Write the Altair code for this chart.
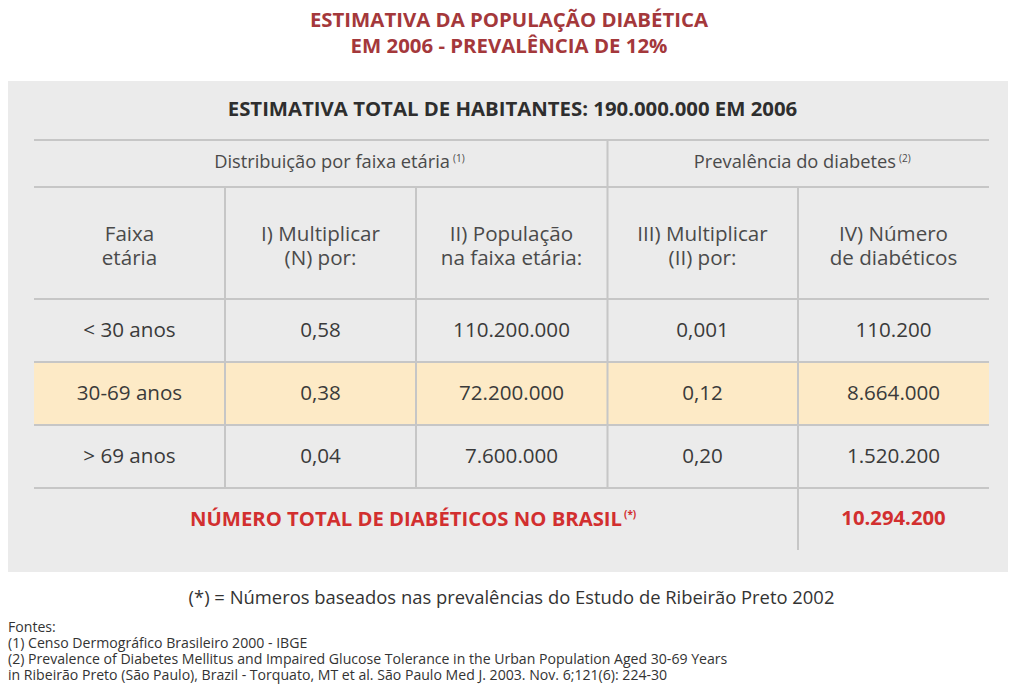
import altair as alt
import pandas as pd

# ---------------- data ----------------
title_lines = ["ESTIMATIVA DA POPULAÇÃO DIABÉTICA", "EM 2006 - PREVALÊNCIA DE 12%"]
total_habitantes_label = "ESTIMATIVA TOTAL DE HABITANTES: 190.000.000 EM 2006"
group_headers = ["Distribuição por faixa etária", "Prevalência do diabetes"]
group_sups = ["(1)", "(2)"]
col_headers = ["Faixa\netária", "I) Multiplicar\n(N) por:", "II) População\nna faixa etária:",
               "III) Multiplicar\n(II) por:", "IV) Número\nde diabéticos"]
faixas = ["< 30 anos", "30-69 anos", "> 69 anos"]
mult_n = [0.58, 0.38, 0.04]
populacao = [110200000, 72200000, 7600000]
mult_ii = [0.001, 0.12, 0.20]
diabeticos = [110200, 8664000, 1520200]
total_label = "NÚMERO TOTAL DE DIABÉTICOS NO BRASIL"
total_diabeticos = 10294200
footnote = "(*) = Números baseados nas prevalências do Estudo de Ribeirão Preto 2002"
fontes = ["Fontes:",
          "(1) Censo Dermográfico Brasileiro 2000 - IBGE",
          "(2) Prevalence of Diabetes Mellitus and Impaired Glucose Tolerance in the Urban Population Aged 30-69 Years",
          "in Ribeirão Preto (São Paulo), Brazil - Torquato, MT et al. São Paulo Med J. 2003. Nov. 6;121(6): 224-30"]
highlight_row = 1


def fmt_int(v):
    return f"{v:,}".replace(",", ".")


def fmt_dec(v, nd):
    return f"{v:.{nd}f}".replace(".", ",")


# ---------------- layout ----------------
W, H = 1007, 676
X0, Y0 = 8, 8
FONT = "Open Sans"
LINE = "#c6c6c6"

tbl_left, tbl_right = 34, 989
ncol = 5
colw = (tbl_right - tbl_left) / ncol
col_edges = [tbl_left + i * colw for i in range(ncol + 1)]
col_centers = [tbl_left + (i + 0.5) * colw for i in range(ncol)]
row_lines = [140, 187, 299, 362, 425, 488]

xs = alt.Scale(domain=[X0, X0 + W], nice=False, zero=False)
ys = alt.Scale(domain=[Y0, Y0 + H], nice=False, zero=False, reverse=True)


def X(f="x"):
    return alt.X(f"{f}:Q", scale=xs, axis=None)


def Y(f="y"):
    return alt.Y(f"{f}:Q", scale=ys, axis=None)


layers = []

# grey panel
bg = pd.DataFrame({"x": [X0], "x2": [1008], "y": [81], "y2": [572]})
layers.append(alt.Chart(bg).mark_rect(color="#ebebeb").encode(
    x=X(), x2="x2:Q", y=Y(), y2="y2:Q"))

# highlighted row
hl = pd.DataFrame({"x": [tbl_left], "x2": [tbl_right],
                   "y": [row_lines[2 + highlight_row]], "y2": [row_lines[3 + highlight_row]]})
layers.append(alt.Chart(hl).mark_rect(color="#fdeac6").encode(
    x=X(), x2="x2:Q", y=Y(), y2="y2:Q"))

# horizontal lines
hdf = pd.DataFrame({"x": [tbl_left] * len(row_lines), "x2": [tbl_right] * len(row_lines),
                    "y": row_lines})
layers.append(alt.Chart(hdf).mark_rule(color=LINE, strokeWidth=2).encode(
    x=X(), x2="x2:Q", y=Y()))

# vertical lines
vdf = pd.DataFrame({
    "x": [col_edges[1], col_edges[2], (col_edges[3] + 0.5), col_edges[4]],
    "y": [187, 187, 140, 187],
    "y2": [488, 488, 488, 550]})
layers.append(alt.Chart(vdf).mark_rule(color=LINE, strokeWidth=2).encode(
    x=X(), y=Y(), y2="y2:Q"))


def text_layer(df, **kw):
    base = dict(font=FONT, baseline="middle")
    base.update(kw)
    return alt.Chart(df).mark_text(**base).encode(x=X(), y=Y(), text="t:N")


# titles
layers.append(text_layer(pd.DataFrame({"x": [509, 509], "y": [20.5, 46.5], "t": title_lines}),
                         fontSize=20.4, fontWeight="bold", color="#a4383b"))
layers.append(text_layer(pd.DataFrame({"x": [512.5], "y": [110], "t": [total_habitantes_label]}),
                         fontSize=20.35, fontWeight="bold", color="#2e2e2e"))

# group headers (right aligned so superscript follows)
layers.append(text_layer(pd.DataFrame({"x": [450, 896], "y": [163, 163], "t": group_headers}),
                         fontSize=18.3, color="#4a4a4a", align="right"))
layers.append(text_layer(pd.DataFrame({"x": [453, 899], "y": [159, 159], "t": group_sups}),
                         fontSize=10, color="#4a4a4a", align="left"))

# column headers
layers.append(text_layer(pd.DataFrame({"x": col_centers, "y": [235] * ncol, "t": col_headers}),
                         fontSize=20.6, color="#4a4a4a", lineBreak="\n", lineHeight=23.5))

# body rows
row_y = [(row_lines[2 + i] + row_lines[3 + i]) / 2 + 0.5 for i in range(3)]
cells = []
for i in range(3):
    vals = [faixas[i], fmt_dec(mult_n[i], 2), fmt_int(populacao[i]),
            fmt_dec(mult_ii[i], 3 if mult_ii[i] < 0.01 else 2), fmt_int(diabeticos[i])]
    for j, v in enumerate(vals):
        cells.append({"x": col_centers[j], "y": row_y[i], "t": v})
layers.append(text_layer(pd.DataFrame(cells), fontSize=20.6, color="#3a3a3a"))

# total row
layers.append(text_layer(pd.DataFrame({"x": [622], "y": [520], "t": [total_label]}),
                         fontSize=20.3, fontWeight="bold", color="#d22f2f", align="right"))
layers.append(text_layer(pd.DataFrame({"x": [624], "y": [515], "t": ["(*)"]}),
                         fontSize=10, fontWeight="bold", color="#d22f2f", align="left"))
layers.append(text_layer(pd.DataFrame({"x": [col_centers[4]], "y": [519], "t": [fmt_int(total_diabeticos)]}),
                         fontSize=20.3, fontWeight="bold", color="#d22f2f"))

# footnote
layers.append(text_layer(pd.DataFrame({"x": [511.5], "y": [598], "t": [footnote]}),
                         fontSize=18.4, color="#333333"))

# sources
layers.append(text_layer(pd.DataFrame({"x": [X0] * 4, "y": [628, 644, 660, 676], "t": fontes}),
                         fontSize=14.1, color="#333333", align="left"))

chart = alt.layer(*layers).properties(
    width=W, height=H, padding=0, autosize=alt.AutoSizeParams(type="none"),
    background="white"
).configure_view(stroke=None)

chart.save("out.html", embed_options={"renderer": "svg", "actions": False})
